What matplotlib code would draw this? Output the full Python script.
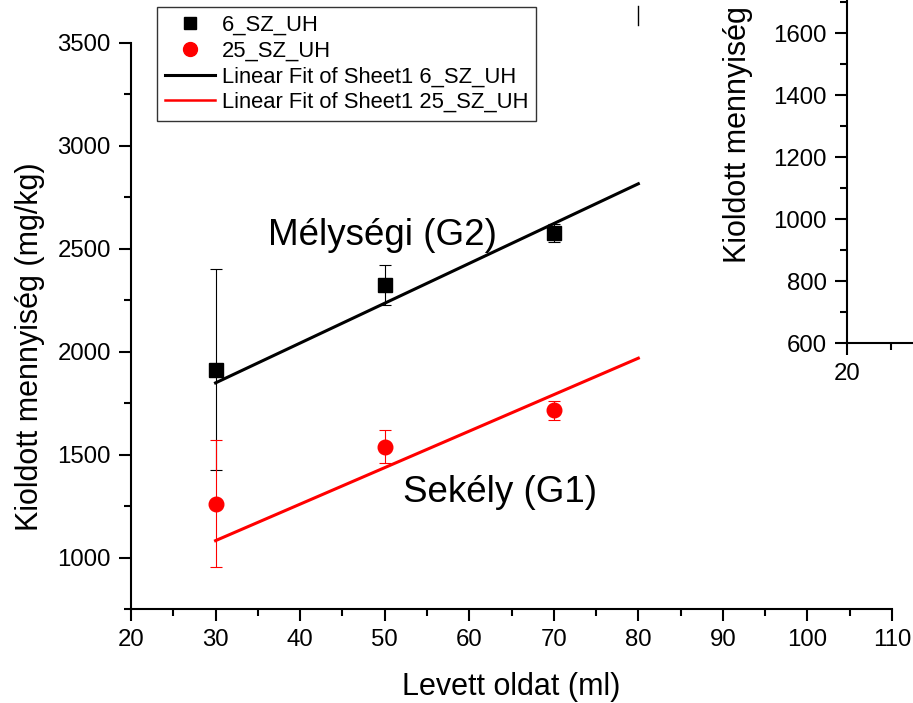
import matplotlib
matplotlib.use("Agg")
import matplotlib.pyplot as plt
from matplotlib.lines import Line2D
from matplotlib.ticker import MultipleLocator, FixedLocator
import matplotlib.transforms as mtransforms

plt.rcParams['font.family'] = ['Liberation Sans', 'DejaVu Sans']

# ---- data ----
x_vals = [30, 50, 70]
deep_y = [1912, 2325, 2575]          # 6_SZ_UH (Mélységi G2)
deep_err = [488, 97, 45]
shallow_y = [1262, 1538, 1715]       # 25_SZ_UH (Sekély G1)
shallow_err = [310, 80, 45]
fit_x = [30, 80]
fit_deep = [1848, 2815]
fit_shallow = [1082, 1968]

legend_labels = ["6_SZ_UH", "25_SZ_UH",
                 "Linear Fit of Sheet1 6_SZ_UH", "Linear Fit of Sheet1 25_SZ_UH"]
xlabel = "Levett oldat (ml)"
ylabel = "Kioldott mennyiség (mg/kg)"
label_deep = "Mélységi (G2)"
label_shallow = "Sekély (G1)"
inset_xticks = [20]
inset_xminor = [25]

W, H = 913, 703
fig = plt.figure(figsize=(W / 100, H / 100), dpi=100)

def px_rect(l, t, r, b):
    return [l / W, 1 - b / H, (r - l) / W, (b - t) / H]

TICK = 17.3

def style_axis(a):
    for s in ['top', 'right']:
        a.spines[s].set_visible(False)
    for s in ['left', 'bottom']:
        a.spines[s].set_linewidth(1.5)
    a.tick_params(which='major', direction='out', length=8.5, width=1.5,
                  labelsize=TICK, pad=6)
    a.tick_params(which='minor', direction='out', length=5, width=1.5)

ax = fig.add_axes(px_rect(131, 42.7, 892, 609))
ax.errorbar(x_vals, deep_y, yerr=deep_err, fmt='s', color='black', ms=9.5,
            ecolor='black', elinewidth=0.8, capsize=4, capthick=0.8, zorder=3)
ax.errorbar(x_vals, shallow_y, yerr=shallow_err, fmt='o', color='red', ms=10.5,
            ecolor='red', elinewidth=0.8, capsize=4, capthick=0.8, zorder=3)
ax.plot(fit_x, fit_deep, color='black', lw=2.2, zorder=2)
ax.plot(fit_x, fit_shallow, color='red', lw=2.2, zorder=2)

ax.set_xlim(20, 110)
ax.set_ylim(750, 3500)
ax.xaxis.set_major_locator(MultipleLocator(10))
ax.xaxis.set_minor_locator(MultipleLocator(5))
ax.yaxis.set_major_locator(MultipleLocator(500))
ax.yaxis.set_minor_locator(MultipleLocator(250))
style_axis(ax)

fig.text(511.5 / W, 1 - 687 / H, xlabel, fontsize=22, ha='center', va='center')
fig.text(30 / W, 1 - 346.5 / H, ylabel, fontsize=22, ha='center', va='center',
         rotation=90)

ax.text(36.2, 2518, label_deep, fontsize=26.5, va='baseline', ha='left')
ax.text(52.2, 1272, label_shallow, fontsize=26.5, va='baseline', ha='left')

# legend
handles = [Line2D([], [], ls='none', marker='s', color='black', ms=8.5),
           Line2D([], [], ls='none', marker='o', color='red', ms=10),
           Line2D([], [], color='black', lw=2.2),
           Line2D([], [], color='red', lw=1.8)]
leg = fig.legend(handles, legend_labels, loc='upper left',
                 bbox_to_anchor=(157 / W, 1 - 7 / H), fontsize=15.8,
                 frameon=True, fancybox=False, edgecolor='black',
                 handlelength=2.3, handletextpad=0.3, borderpad=0.35,
                 labelspacing=0.22, borderaxespad=0)
leg.get_frame().set_linewidth(1.0)

# small fragment mark near top
trans = mtransforms.blended_transform_factory(ax.transData, fig.transFigure)
ax.plot([fit_x[-1], fit_x[-1]], [1 - 6 / H, 1 - 25 / H], color='black', lw=1,
        transform=trans, clip_on=False)

# inset (partially visible second chart)
ax2 = fig.add_axes(px_rect(846.7, 0, 846.7 + 797, 343.3))
ax2.set_facecolor('none')
ax2.set_xlim(20, 110)
ax2.set_ylim(600, 1707)
ax2.xaxis.set_major_locator(FixedLocator(inset_xticks))
ax2.xaxis.set_minor_locator(FixedLocator(inset_xminor))
ax2.yaxis.set_major_locator(MultipleLocator(200))
ax2.yaxis.set_minor_locator(MultipleLocator(100))
style_axis(ax2)
fig.text(738 / W, 1 - 263 / H, ylabel, rotation=90, fontsize=22,
         ha='center', va='bottom')

fig.savefig("out.png", dpi=100)
